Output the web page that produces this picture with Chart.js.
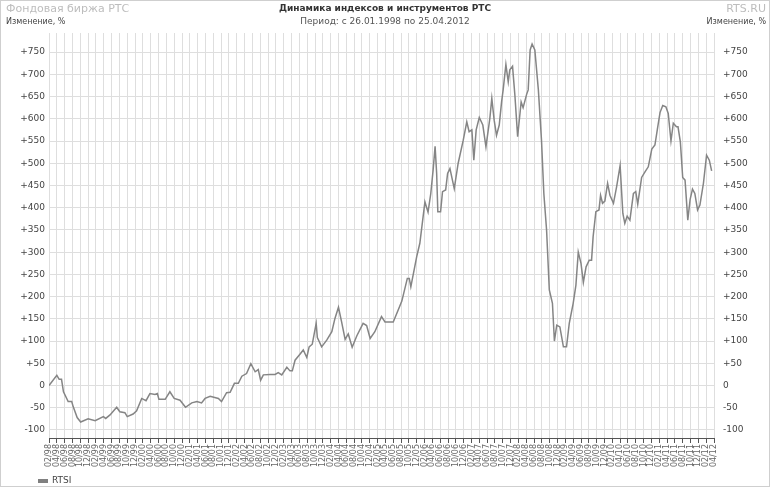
<!DOCTYPE html>
<html lang="ru">
<head>
<meta charset="UTF-8">
<title>Динамика индексов и инструментов РТС</title>
<script src="https://cdn.jsdelivr.net/npm/chart.js"></script>
<style>
    html, body { margin: 0; padding: 0; background: #fff; }
    .chart-box { position: relative; width: 770px; height: 487px; }
</style>
</head>
<body>
<div class="chart-box"><canvas id="rtsChart"></canvas></div>
<script>
    // RTSI, change since 26.01.1998 in %; x = months counted from 02/98
    const rtsiMonth = [
        0, 2.0, 2.6, 3.2, 3.7, 4.9, 5.8, 6.2, 7.2, 8.1, 10.0, 11.8, 13.9, 14.5, 15.6, 17.3, 18.1, 19.4, 20.0, 21.5,
        22.4, 23.7, 24.8, 25.8, 27.1, 27.7, 28.1, 29.7, 30.9, 32.0, 33.5, 34.9, 36.5, 37.8, 39.0, 39.9, 41.2, 43.3, 44.1, 45.4,
        46.3, 47.4, 48.4, 49.3, 50.5, 51.6, 52.7, 53.5, 54.1, 54.8, 56.5, 57.8, 58.6, 59.5, 60.8, 61.6, 62.2, 62.9, 64.2, 65.0,
        65.9, 66.5, 67.3, 68.3, 68.6, 69.7, 71.0, 72.3, 73.1, 74.0, 74.8, 75.7, 76.5, 77.5, 78.7, 80.3, 81.2, 82.1, 83.3, 85.0,
        85.9, 88.0, 88.9, 90.2, 91.6, 92.1, 92.5, 94.0, 94.8, 96.1, 96.9, 97.6, 98.2, 98.7, 99.1, 99.4, 100.1, 100.6, 101.4, 101.9,
        102.5, 103.6, 104.6, 105.9, 106.8, 107.4, 108.1, 108.6, 109.2, 110.0, 110.9, 111.7, 112.7, 113.2, 113.8, 114.4, 115.1, 115.7, 116.1, 116.8,
        117.4, 117.8, 118.5, 119.1, 119.8, 120.7, 121.2, 122.1, 122.5, 123.0, 123.5, 124.2, 125.1, 125.9, 126.5, 127.2, 127.9, 128.7, 129.2, 129.8,
        130.6, 131.5, 132.3, 133.0, 134.0, 134.7, 135.3, 136.0, 136.6, 137.3, 138.1, 138.7, 139.1, 139.8, 140.6, 141.0, 141.5, 142.1, 142.8, 143.4,
        144.3, 145.1, 146.0, 146.7, 147.2, 147.8, 148.5, 149.4, 150.0, 150.5, 151.5, 152.4, 153.2, 154.1, 154.9, 155.5, 156.2, 156.9, 157.7, 158.3,
        159.0, 159.6, 160.4, 160.8, 161.4, 162.0, 162.6, 163.3, 163.9, 164.5, 165.1, 165.8, 166.4, 167.3, 168.1, 168.8, 169.4
    ];
    const rtsiChange = [
        0, 23, 14, 14, -14, -36, -36, -48, -72, -82, -75, -79, -70, -74, -66, -49, -59, -61, -70, -64,
        -57, -29, -34, -18, -20, -18, -31, -31, -14, -29, -33, -49, -39, -36, -39, -29, -24, -29, -36, -16,
        -15, 5, 5, 21, 27, 49, 31, 36, 12, 24, 25, 25, 29, 24, 41, 33, 33, 57, 71, 80,
        63, 87, 93, 140, 108, 87, 102, 121, 151, 176, 143, 104, 116, 86, 112, 140, 135, 106, 121, 155,
        143, 143, 162, 190, 241, 241, 222, 290, 320, 413, 390, 432, 485, 538, 477, 391, 391, 436, 440, 477,
        488, 443, 500, 552, 593, 571, 575, 507, 575, 603, 586, 537, 601, 646, 597, 563, 586, 638, 665, 722,
        683, 710, 718, 653, 560, 638, 625, 655, 665, 755, 768, 755, 665, 552, 432, 350, 215, 185, 100, 136,
        132, 87, 87, 140, 185, 226, 300, 275, 232, 267, 282, 282, 335, 391, 395, 428, 410, 415, 455, 428,
        410, 447, 495, 387, 365, 381, 372, 432, 436, 408, 468, 481, 492, 532, 541, 575, 614, 630, 627, 612,
        550, 590, 582, 582, 548, 468, 462, 372, 419, 442, 432, 395, 406, 455, 518, 507, 483
    ];
    const yTicks = [-100, -50, 0, 50, 100, 150, 200, 250, 300, 350, 400, 450, 500, 550, 600, 650, 700, 750];
    const xFirst = 0;    // 02/98
    const xLast = 170;   // 04/12
    const xStep = 2;

    const font = 'DejaVu Sans';

    function monthLabel(m) {
        const mon = (m + 1) % 12 + 1;
        const year = (1998 + Math.floor((m + 1) / 12)) % 100;
        return String(mon).padStart(2, '0') + '/' + String(year).padStart(2, '0');
    }

    function yLabel(v) {
        return v > 0 ? '+' + v : String(v);
    }

    function setYTicks(scale) {
        scale.ticks = yTicks.map(v => ({ value: v }));
    }

    // header texts, legend and frame
    const decorations = {
        id: 'decorations',
        afterDraw(chart) {
            const c = chart.ctx;
            const w = chart.width;
            c.save();
            c.textBaseline = 'middle';

            c.fillStyle = '#bdbdbd';
            c.font = '11px "' + font + '"';
            c.textAlign = 'left';
            c.fillText('Фондовая биржа РТС', 6, 9);
            c.textAlign = 'right';
            c.fillText('RTS.RU', w - 4, 9);

            c.fillStyle = '#333';
            c.font = 'bold 9px "' + font + '"';
            c.textAlign = 'center';
            c.fillText('Динамика индексов и инструментов РТС', 385, 9);
            c.fillStyle = '#555';
            c.font = '9px "' + font + '"';
            c.fillText('Период: с 26.01.1998 по 25.04.2012', 385, 22);

            c.font = '8px "' + font + '"';
            c.fillStyle = '#444';
            c.textAlign = 'left';
            c.fillText('Изменение, %', 6, 22);
            c.textAlign = 'right';
            c.fillText('Изменение, %', w - 4, 22);

            // legend
            c.fillStyle = '#808080';
            c.fillRect(38, 479, 10, 4);
            c.fillStyle = '#444';
            c.font = '9px "' + font + '"';
            c.textAlign = 'left';
            c.fillText('RTSI', 52, 481);

            c.strokeStyle = '#cfcfcf';
            c.lineWidth = 1;
            c.strokeRect(0.5, 0.5, w - 1, chart.height - 1);
            c.restore();
        }
    };

    const ctx = document.getElementById('rtsChart').getContext('2d');
    new Chart(ctx, {
        type: 'line',
        data: {
            datasets: [{
                label: 'RTSI',
                data: rtsiMonth.map((m, i) => ({ x: m, y: rtsiChange[i] })),
                borderColor: '#858585',
                borderWidth: 1.5,
                pointRadius: 0,
                tension: 0,
                yAxisID: 'y'
            }]
        },
        options: {
            responsive: true,
            maintainAspectRatio: false,
            animation: false,
            devicePixelRatio: 1,
            layout: { padding: { top: 33, bottom: 11, left: 0, right: 0 } },
            plugins: {
                legend: { display: false },
                tooltip: { enabled: false }
            },
            scales: {
                x: {
                    type: 'linear',
                    min: xFirst,
                    max: xLast,
                    afterBuildTicks: s => {
                        const t = [];
                        for (let m = xFirst; m <= xLast; m += xStep) t.push({ value: m });
                        s.ticks = t;
                    },
                    afterFit: s => { s.height = 38; },
                    grid: { color: '#dedede', tickColor: '#555', tickLength: 5 },
                    border: { color: '#555', width: 1 },
                    ticks: {
                        autoSkip: false,
                        minRotation: 90,
                        maxRotation: 90,
                        padding: 1,
                        color: '#666',
                        font: { family: font, size: 8 },
                        callback: v => monthLabel(v)
                    }
                },
                y: {
                    position: 'left',
                    min: -118,
                    max: 793,
                    afterBuildTicks: setYTicks,
                    afterFit: s => { s.width = 49; },
                    grid: { color: '#dedede', drawTicks: false },
                    border: { display: false },
                    ticks: {
                        padding: 4,
                        color: '#444',
                        font: { family: font, size: 9 },
                        callback: v => yLabel(v)
                    }
                },
                y2: {
                    position: 'right',
                    min: -118,
                    max: 793,
                    afterBuildTicks: setYTicks,
                    afterFit: s => { s.width = 56; },
                    grid: { display: false, drawTicks: false },
                    border: { display: false },
                    ticks: {
                        padding: 9,
                        color: '#444',
                        font: { family: font, size: 9 },
                        callback: v => yLabel(v)
                    }
                }
            }
        },
        plugins: [decorations]
    });
</script>
</body>
</html>
